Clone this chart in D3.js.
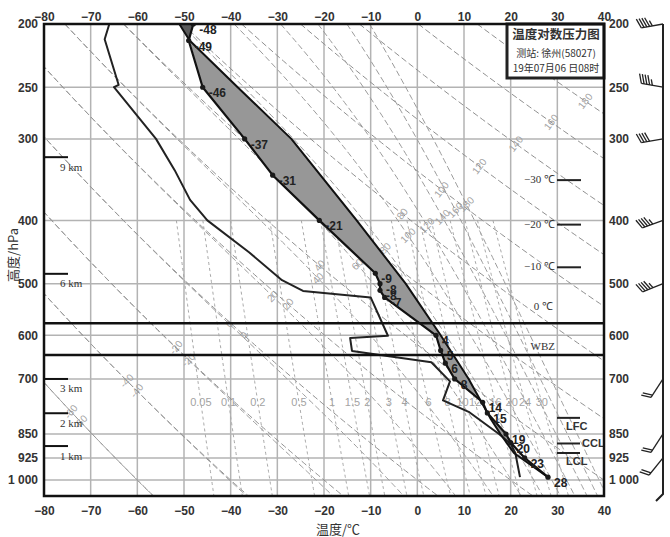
<!DOCTYPE html>
<html>
<head>
<meta charset="utf-8">
<script src="https://cdn.jsdelivr.net/npm/d3@7"></script>
<style>
  body { margin: 0; background: #fff; }
  svg { display: block; }
</style>
</head>
<body>
<svg id="chart" width="670" height="537"></svg>
<script>
// ---- data ----
var tempTicks = [-80, -70, -60, -50, -40, -30, -20, -10, 0, 10, 20, 30, 40];
var presTicks = [200, 250, 300, 400, 500, 600, 700, 850, 925, 1000];

// environment temperature (labels are the values)
var envP = [200, 212, 250, 300, 341, 400, 482, 500, 512, 525, 600, 633, 662, 700, 760, 789, 850, 876, 925, 990];
var envT = [-48, -49, -46, -37, -31, -21, -9, -8, -8, -7, 4, 5, 6, 8, 14, 15, 19, 20, 23, 28];

// dew point
var dewP = [200, 211, 248, 250, 300, 335, 372, 400, 448, 494, 513, 525, 601, 606, 634, 660, 706, 755, 786, 850, 880, 909, 990];
var dewT = [-66, -67, -64, -65, -56, -52, -48.7, -45, -36, -29, -24.5, -10, -6.3, -14.4, -14, 3, 7, 5.5, 11, 17.5, 20, 21, 22];

// lifted parcel
var parcelP = [990, 909, 850, 803, 700, 600, 500, 400, 300, 250, 212, 200];
var parcelT = [28, 20.7, 17.8, 15.6, 11, 5, -2.5, -13, -27, -38.5, -48.8, -51];

// background line families
var dryThetas = [-60, -40, -20, 0, 20, 40, 60, 80, 100, 120, 140, 160, 180, 200];
var moistThetas = [-60, -40, -20, 0, 20, 40, 60, 80, 100, 120, 140, 160, 180];
var mixRatios = [0.05, 0.1, 0.2, 0.5, 1, 1.5, 2, 3, 4, 6, 8, 10, 12, 16, 20, 24, 30];

// height marks on the left
var kmNames = ["9 km", "6 km", "3 km", "2 km", "1 km"];
var kmP = [320, 483, 700, 790, 887];

// isotherm heights on the right
var isoNames = ["\u221230 \u2103", "\u221220 \u2103", "\u221210 \u2103", "0 \u2103"];
var isoP = [347, 406, 472, 575];

var wbzP = 643;
var levelNames = ["LFC", "CCL", "LCL"];
var levelP = [803, 879, 909];

// winds (direction deg, speed m/s)
var windP = [200, 250, 300, 400, 500, 700, 850, 925];
var windDir = [260, 280, 260, 250, 248, 213, 213, 219];
var windSpd = [18, 18, 16, 18, 18, 8, 8, 8];

var titleLines = ["\u6e29\u5ea6\u5bf9\u6570\u538b\u529b\u56fe", "\u6d4b\u7ad9: \u5f90\u5dde(58027)", "19\u5e7407\u670806 \u65e508\u65f6"];

// ---- scales ----
var svg = d3.select("#chart");
var x = d3.scaleLinear().domain([-80, 40]).range([44, 604]);
var y = d3.scaleLog().domain([200, 1058]).range([24, 496]);

var sans = "'Liberation Sans', Arial, sans-serif";
var serif = "'Liberation Serif', 'Times New Roman', serif";
var cjk = "'Noto Sans CJK SC', sans-serif";

// ---- thermodynamics for the background lines ----
function esWater(tc) { return 6.112 * Math.exp(17.67 * tc / (tc + 243.5)); }
function tFromE(e) {
  var l = Math.log(e / 6.112);
  var t = 243.5 * l / (17.67 - l);
  if (t < 0) t = 272.62 * l / (22.46 - l);
  return t;
}
function dryT(th, p) { return (th + 273.15) * Math.pow(p / 1000, 0.286) - 273.15; }
function thetaE(tc, p) {
  var es = esWater(tc), ws = 0.622 * es / (p - es), tk = tc + 273.15;
  return tk * Math.pow(1000 / p, 0.286) * Math.exp(2.5e6 * ws / (1004 * tk));
}
function moistT(th, p) {
  var target = th + 273.15, lo = -130, hi = 60;
  while (esWater(hi) > p * 0.3) hi -= 1;
  if (thetaE(hi, p) < target) return null;
  for (var i = 0; i < 50; i++) {
    var mid = (lo + hi) / 2;
    if (thetaE(mid, p) < target) lo = mid; else hi = mid;
  }
  return (lo + hi) / 2;
}

function segInt(a, b, c, d) {
  var rx = b[0] - a[0], ry = b[1] - a[1], sx = d[0] - c[0], sy = d[1] - c[1];
  var den = rx * sy - ry * sx;
  if (!den) return null;
  var t = ((c[0] - a[0]) * sy - (c[1] - a[1]) * sx) / den;
  var u = ((c[0] - a[0]) * ry - (c[1] - a[1]) * rx) / den;
  if (t >= 0 && t <= 1 && u >= 0 && u <= 1) return [a[0] + t * rx, a[1] + t * ry];
  return null;
}
function crossGuide(pts, guide) {
  for (var i = 1; i < pts.length; i++) {
    for (var j = 1; j < guide.length; j++) {
      var q = segInt(pts[i - 1], pts[i], guide[j - 1], guide[j]);
      if (q) return q;
    }
  }
  return null;
}

// ---- clip ----
svg.append("defs").append("clipPath").attr("id", "plotClip")
  .append("rect").attr("x", 44).attr("y", 24).attr("width", 560).attr("height", 472);

var plot = svg.append("g").attr("clip-path", "url(#plotClip)");

// grid
plot.selectAll(".iso").data(tempTicks).enter().append("line")
  .attr("x1", d => x(d)).attr("x2", d => x(d)).attr("y1", 24).attr("y2", 496)
  .attr("stroke", "#b3b3b3").attr("stroke-width", 1.5);
plot.selectAll(".bar").data(presTicks).enter().append("line")
  .attr("x1", 44).attr("x2", 604).attr("y1", d => y(d)).attr("y2", d => y(d))
  .attr("stroke", "#b3b3b3").attr("stroke-width", 1.5);

var samples = d3.range(200, 1062, 4);
var bgLine = d3.line().defined(d => d.t != null).x(d => x(d.t)).y(d => y(d.p));
var lblG = plot.append("g").attr("font-family", sans).attr("font-size", 10).attr("fill", "#a3a3a3");

var dryGuide = [[60, 415], [142, 389], [178, 345], [245, 335], [287, 305], [320, 265], [405, 212], [600, 92]];
dryThetas.forEach(function (th) {
  var pts = samples.map(p => ({ p: p, t: dryT(th, p) }));
  plot.append("path").attr("d", bgLine(pts)).attr("fill", "none")
    .attr("stroke", "#8f8f8f").attr("stroke-width", 1).attr("stroke-dasharray", "6,3");
  var q = crossGuide(pts.map(d => [x(d.t), y(d.p)]), dryGuide);
  if (q && q[0] > 50 && q[0] < 600 && !(q[0] > 505 && q[1] < 82)) {
    lblG.append("text").attr("transform", "translate(" + q[0] + "," + q[1] + ") rotate(-52)")
      .attr("text-anchor", "middle").attr("dy", "0.35em").text(th);
  }
});

var moistGuide = [[60, 440], [130, 378], [195, 358], [235, 318], [280, 292], [358, 264], [405, 237], [480, 197]];
moistThetas.forEach(function (th) {
  var pts = samples.map(p => ({ p: p, t: moistT(th, p) }));
  plot.append("path").attr("d", bgLine(pts)).attr("fill", "none")
    .attr("stroke", "#9a9a9a").attr("stroke-width", 1).attr("stroke-dasharray", "6,3");
  var good = pts.filter(d => d.t != null).map(d => [x(d.t), y(d.p)]);
  var q = crossGuide(good, moistGuide);
  if (q && q[0] > 50 && q[0] < 600) {
    lblG.append("text").attr("transform", "translate(" + q[0] + "," + q[1] + ") rotate(-45)")
      .attr("text-anchor", "middle").attr("dy", "0.35em").text(th);
  }
});

var mixSamples = d3.range(400, 1062, 6);
mixRatios.forEach(function (w) {
  var pts = mixSamples.map(p => ({ p: p, t: tFromE(w * p / (622 + w)) }));
  plot.append("path").attr("d", bgLine(pts)).attr("fill", "none")
    .attr("stroke", "#a8a8a8").attr("stroke-width", 1).attr("stroke-dasharray", "3,3");
  var lp = 760;
  lblG.append("text").attr("x", x(tFromE(w * lp / (622 + w)))).attr("y", y(lp))
    .attr("text-anchor", "middle").attr("dy", "0.35em").attr("font-size", 11).text(w);
});

// ---- sounding ----
var env = envP.map((p, i) => ({ p: p, t: envT[i] }));
var dew = dewP.map((p, i) => ({ p: p, t: dewT[i] }));
var parcel = parcelP.map((p, i) => ({ p: p, t: parcelT[i] }));
var curve = d3.line().x(d => x(d.t)).y(d => y(d.p));

// positive area between LFC and EL
var lfc = levelP[0], el = 212;
var posPoly = [parcel.find(d => d.p === lfc)]
  .concat(env.filter(d => d.p < lfc && d.p > el).sort((a, b) => b.p - a.p))
  .concat(parcel.filter(d => d.p <= lfc && d.p >= el).sort((a, b) => a.p - b.p));
plot.append("path").attr("d", curve(posPoly) + "Z").attr("fill", "#979797");

// negative areas
var topPoly = [parcel.find(d => d.p === el), parcel.find(d => d.p === 200), env.find(d => d.p === 200)];
plot.append("path").attr("d", curve(topPoly) + "Z").attr("fill", "#5a5a5a");
var lowPoly = parcel.filter(d => d.p <= levelP[2] && d.p >= lfc)
  .concat(env.filter(d => d.p < levelP[2] && d.p > lfc).sort((a, b) => a.p - b.p));
plot.append("path").attr("d", curve(lowPoly) + "Z").attr("fill", "#979797");

plot.append("path").attr("d", curve(dew)).attr("fill", "none")
  .attr("stroke", "#222").attr("stroke-width", 2).attr("stroke-linejoin", "round");
plot.append("path").attr("d", curve(parcel)).attr("fill", "none")
  .attr("stroke", "#111").attr("stroke-width", 2).attr("stroke-linejoin", "round");
plot.append("path").attr("d", curve(env)).attr("fill", "none")
  .attr("stroke", "#111").attr("stroke-width", 2.2).attr("stroke-linejoin", "round");

plot.selectAll(".dot").data(env).enter().append("circle")
  .attr("cx", d => x(d.t)).attr("cy", d => y(d.p)).attr("r", 2.6).attr("fill", "#1a1a1a");

svg.append("g").attr("font-family", sans).attr("font-size", 12).attr("font-weight", "bold").attr("fill", "#222")
  .selectAll("text").data(env).enter().append("text")
  .attr("x", d => x(d.t) + 6).attr("y", d => y(d.p) + 10).text(d => d.t);

// special levels
[isoP[3], wbzP].forEach(function (p) {
  svg.append("line").attr("x1", 44).attr("x2", 604).attr("y1", y(p)).attr("y2", y(p))
    .attr("stroke", "#111").attr("stroke-width", 2.5);
});
svg.append("text").attr("x", 555).attr("y", y(wbzP) - 5).attr("text-anchor", "end")
  .attr("font-family", serif).attr("font-size", 11).attr("fill", "#333").text("WBZ");

isoNames.forEach(function (s, i) {
  var yy = y(isoP[i]);
  if (i < 3) {
    svg.append("line").attr("x1", 557).attr("x2", 581).attr("y1", yy).attr("y2", yy)
      .attr("stroke", "#222").attr("stroke-width", 2);
    svg.append("text").attr("x", 555).attr("y", yy + 3).attr("text-anchor", "end")
      .attr("font-family", serif).attr("font-size", 11).attr("fill", "#333").text(s);
  } else {
    svg.append("text").attr("x", 553).attr("y", yy - 13).attr("text-anchor", "end")
      .attr("font-family", serif).attr("font-size", 11).attr("fill", "#333").text(s);
  }
});

levelNames.forEach(function (s, i) {
  var yy = y(levelP[i]);
  svg.append("line").attr("x1", 557).attr("x2", 580).attr("y1", yy).attr("y2", yy)
    .attr("stroke", "#222").attr("stroke-width", 2);
  var t = svg.append("text").attr("font-family", sans).attr("font-size", 11)
    .attr("font-weight", "bold").attr("fill", "#333").text(s);
  if (s === "CCL") t.attr("x", 582).attr("y", yy + 4);
  else t.attr("x", 566).attr("y", yy + 12);
});

kmNames.forEach(function (s, i) {
  var yy = y(kmP[i]);
  svg.append("line").attr("x1", 44).attr("x2", 68).attr("y1", yy).attr("y2", yy)
    .attr("stroke", "#111").attr("stroke-width", 2);
  svg.append("text").attr("x", 60).attr("y", yy + 13.5)
    .attr("font-family", serif).attr("font-size", 11).attr("fill", "#333").text(s);
});

// legend box
var lg = svg.append("g");
lg.append("rect").attr("x", 507).attr("y", 24).attr("width", 97).attr("height", 54)
  .attr("fill", "#fff").attr("stroke", "#222").attr("stroke-width", 3);
lg.append("text").attr("x", 556).attr("y", 39).attr("text-anchor", "middle")
  .attr("font-family", cjk).attr("font-size", 12.5).attr("font-weight", "bold").attr("fill", "#333").text(titleLines[0]);
lg.append("text").attr("x", 556).attr("y", 57).attr("text-anchor", "middle")
  .attr("font-family", cjk).attr("font-size", 10).attr("fill", "#333").text(titleLines[1]);
lg.append("text").attr("x", 556).attr("y", 72).attr("text-anchor", "middle")
  .attr("font-family", cjk).attr("font-size", 10).attr("fill", "#333").text(titleLines[2]);

// frame
svg.append("rect").attr("x", 44).attr("y", 24).attr("width", 560).attr("height", 472)
  .attr("fill", "none").attr("stroke", "#111").attr("stroke-width", 2.5);

// axes
function styleAxis(g) {
  g.select(".domain").remove();
  g.selectAll("text").attr("font-family", sans).attr("font-size", 12)
    .attr("font-weight", "bold").attr("fill", "#333");
}
svg.append("g").attr("transform", "translate(0,24)")
  .call(d3.axisTop(x).tickValues(tempTicks).tickSize(0).tickPadding(3)).call(styleAxis);
svg.append("g").attr("transform", "translate(0,496)")
  .call(d3.axisBottom(x).tickValues(tempTicks).tickSize(0).tickPadding(10)).call(styleAxis);
var pFmt = d => d === 1000 ? "1 000" : d;
svg.append("g").attr("transform", "translate(44,0)")
  .call(d3.axisLeft(y).tickValues(presTicks).tickSize(0).tickPadding(6).tickFormat(pFmt)).call(styleAxis);
svg.append("g").attr("transform", "translate(604,0)")
  .call(d3.axisRight(y).tickValues(presTicks).tickSize(0).tickPadding(5).tickFormat(pFmt)).call(styleAxis);

svg.append("text").attr("x", 338).attr("y", 534).attr("text-anchor", "middle")
  .attr("font-family", cjk).attr("font-size", 13).attr("fill", "#333").text("\u6e29\u5ea6/\u2103");
svg.append("text").attr("transform", "translate(18,255) rotate(-90)").attr("text-anchor", "middle")
  .attr("font-family", cjk).attr("font-size", 13).attr("fill", "#333").text("\u9ad8\u5ea6/hPa");

// wind barbs
var wx = 663;
svg.append("path").attr("d", "M" + wx + ",24V494L656,501").attr("fill", "none")
  .attr("stroke", "#222").attr("stroke-width", 2);
var wg = svg.append("g").attr("stroke", "#222").attr("stroke-width", 1.3).attr("fill", "none");
windP.forEach(function (p, i) {
  var cy = y(p), a = windDir[i] * Math.PI / 180, L = 22;
  var ux = Math.sin(a), uy = -Math.cos(a);
  var ex = wx + ux * L, ey = cy + uy * L;
  wg.append("line").attr("x1", wx).attr("y1", cy).attr("x2", ex).attr("y2", ey);
  var b = (windDir[i] + 70) * Math.PI / 180, bx = Math.sin(b), by = -Math.cos(b);
  var s = windSpd[i], pos = 0, step = 2.8;
  while (s >= 20) {
    var px = ex - ux * pos, py = ey - uy * pos;
    wg.append("path").attr("d", "M" + px + "," + py + "L" + (px + bx * 10) + "," + (py + by * 10)
      + "L" + (px - ux * 4) + "," + (py - uy * 4) + "Z").attr("fill", "#222");
    pos += 5; s -= 20;
  }
  while (s >= 4) {
    var qx = ex - ux * pos, qy = ey - uy * pos;
    wg.append("line").attr("x1", qx).attr("y1", qy).attr("x2", qx + bx * 10).attr("y2", qy + by * 10);
    pos += step; s -= 4;
  }
  if (s >= 2) {
    var hx = ex - ux * pos, hy = ey - uy * pos;
    wg.append("line").attr("x1", hx).attr("y1", hy).attr("x2", hx + bx * 6).attr("y2", hy + by * 6);
  }
});
</script>
</body>
</html>
